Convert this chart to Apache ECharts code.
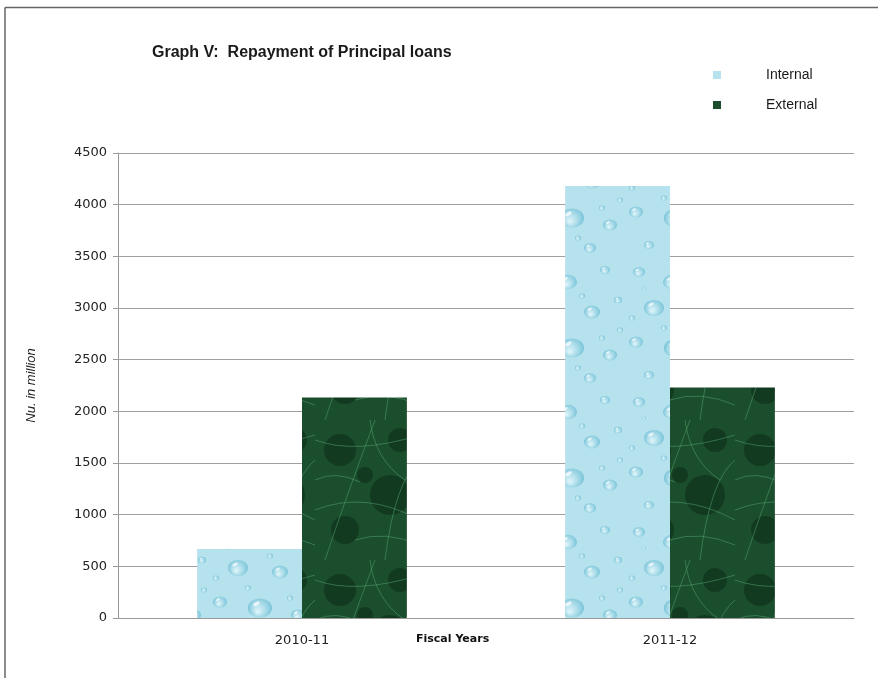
<!DOCTYPE html>
<html><head><meta charset="utf-8">
<script src="https://cdn.jsdelivr.net/npm/echarts@6/dist/echarts.min.js"></script>
<style>html,body{margin:0;padding:0;background:#fff}#c{width:878px;height:678px}</style>
</head><body><div id="c"></div>
<script>
const categories = ['2010-11', '2011-12'];
const internalValues = [668, 4180];
const externalValues = [2135, 2230];
const yTicks = [0, 500, 1000, 1500, 2000, 2500, 3000, 3500, 4000, 4500];

function dropPattern() {
  const c = document.createElement('canvas'); c.width = 104; c.height = 130;
  const g = c.getContext('2d');
  g.fillStyle = '#b6e2ee'; g.fillRect(0, 0, 104, 130);
  const drops = [[15,12,6],[48,22,9],[85,10,5],[30,48,10],[72,52,8],[98,40,4],[12,82,7],[52,88,12],[90,95,7],[25,115,5],[70,118,6],[100,70,3],[40,68,3],[62,36,3],[8,58,3],[82,78,3],[20,28,2],[58,108,3]];
  drops.forEach(([x,y,r]) => {
    const gr = g.createRadialGradient(x - r*0.2, y + r*0.3, r*0.1, x, y, r);
    gr.addColorStop(0, '#d9f2f8'); gr.addColorStop(0.7, '#98d3e3'); gr.addColorStop(1, '#78c3d8');
    g.fillStyle = gr; g.beginPath(); g.ellipse(x, y, r, r*0.8, 0, 0, Math.PI*2); g.fill();
    g.fillStyle = 'rgba(255,255,255,0.7)'; g.beginPath(); g.ellipse(x - r*0.3, y - r*0.35, r*0.3, r*0.15, -0.5, 0, Math.PI*2); g.fill();
  });
  return c;
}
function marblePattern() {
  const c = document.createElement('canvas'); c.width = 105; c.height = 140;
  const g = c.getContext('2d');
  g.fillStyle = '#1b4e2c'; g.fillRect(0, 0, 105, 140);
  g.fillStyle = 'rgba(8,35,18,0.45)';
  [[25,30,16],[75,75,20],[30,110,14],[85,20,12],[50,55,8]].forEach(([x,y,r]) => { g.beginPath(); g.arc(x,y,r,0,Math.PI*2); g.fill(); });
  g.strokeStyle = 'rgba(85,165,115,0.5)'; g.lineWidth = 1;
  const veins = [[0,20,40,35,105,15],[10,140,30,80,60,0],[0,90,50,70,105,100],[70,140,80,60,105,40],[0,60,20,50,45,62],[40,120,70,110,105,125],[55,0,60,40,90,60]];
  veins.forEach(([a,b,c1,d,e,f]) => { g.beginPath(); g.moveTo(a,b); g.quadraticCurveTo(c1,d,e,f); g.stroke(); });
  return c;
}

const chart = echarts.init(document.getElementById('c'));
chart.setOption({
  animation: false,
  backgroundColor: '#fff',
  title: {
    text: 'Graph V:  Repayment of Principal loans',
    left: 147, top: 40,
    textStyle: { fontFamily: 'Liberation Sans, Arial', fontSize: 16, fontWeight: 'bold', color: '#1a1a1a' }
  },
  legend: {
    orient: 'vertical', left: 708, top: 63, itemGap: 16,
    itemWidth: 8, itemHeight: 8, icon: 'rect',
    textStyle: { fontFamily: 'Liberation Sans, Arial', fontSize: 14, color: '#1a1a1a', padding: [0,0,0,40] },
    data: ['Internal', 'External']
  },
  grid: { left: 118, right: 24, top: 153, bottom: 60, containLabel: false },
  xAxis: {
    type: 'category', data: categories,
    axisLine: { lineStyle: { color: '#999' } },
    axisTick: { show: false },
    axisLabel: { fontFamily: 'DejaVu Sans', fontSize: 13, color: '#222', margin: 16 }
  },
  yAxis: {
    type: 'value', min: yTicks[0], max: yTicks[yTicks.length-1], interval: 500,
    name: 'Nu. in million', nameLocation: 'middle', nameGap: 80, nameRotate: 90,
    nameTextStyle: { fontFamily: 'Liberation Sans, Arial', fontStyle: 'italic', fontSize: 13, color: '#222' },
    axisLine: { show: true, lineStyle: { color: '#999' } },
    axisTick: { show: true, length: 5, lineStyle: { color: '#999' } },
    splitLine: { lineStyle: { color: '#a0a0a0' } },
    axisLabel: { fontFamily: 'DejaVu Sans', fontSize: 13, color: '#222', margin: 11, formatter: v => String(v) }
  },
  graphic: [
    { type: 'text', left: 416, top: 634, style: { text: 'Fiscal Years', font: 'bold 11px DejaVu Sans', fill: '#111' } },
    { type: 'line', shape: { x1: 5, y1: 7.5, x2: 878, y2: 7.5 }, style: { stroke: '#666', lineWidth: 1.5 } },
    { type: 'line', shape: { x1: 5, y1: 7.5, x2: 5, y2: 678 }, style: { stroke: '#666', lineWidth: 1.5 } }
  ],
  series: [
    { name: 'Internal', type: 'bar', data: internalValues, barGap: '0%', barCategoryGap: '43%',
      itemStyle: { color: { image: dropPattern(), repeat: 'repeat' } } },
    { name: 'External', type: 'bar', data: externalValues,
      itemStyle: { color: { image: marblePattern(), repeat: 'repeat' } } }
  ]
});
</script></body></html>
